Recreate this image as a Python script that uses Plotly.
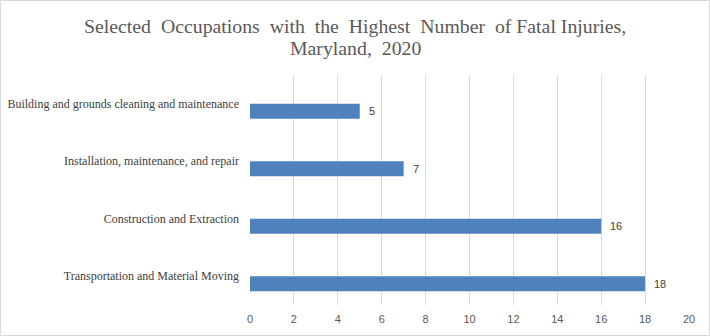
import plotly.graph_objects as go

categories = [
    "Building and grounds cleaning and maintenance",
    "Installation, maintenance, and repair",
    "Construction and Extraction",
    "Transportation and Material Moving",
]
values = [5, 7, 16, 18]
x_ticks = [0, 2, 4, 6, 8, 10, 12, 14, 16, 18, 20]
title_line1 = "Selected&nbsp; Occupations&nbsp; with&nbsp; the&nbsp; Highest&nbsp; Number&nbsp; of Fatal Injuries,"
title_line2 = "Maryland,&nbsp; 2020"

idx = list(range(len(categories)))
bar_w = 0.26
bar_pos = [i + bar_w / 2 for i in idx]

PLOT_H = 230
PLOT_W = 439
LEFT = 250
TOP = 75

fig = go.Figure()
fig.add_trace(go.Bar(
    x=values, y=bar_pos, orientation="h", width=bar_w,
    marker=dict(color="#4F81BD", line=dict(width=0)),
    hoverinfo="skip",
))

for v, p in zip(values, bar_pos):
    fig.add_annotation(x=v, y=p, text=str(v), showarrow=False, xanchor="left",
                       yanchor="middle", xshift=7,
                       font=dict(family="Liberation Sans", size=11, color="#404040"))

title_font = dict(family="Liberation Serif", size=19.8, color="#595959")
for txt, ypx in [(title_line1, 26), (title_line2, 48)]:
    fig.add_annotation(xref="paper", yref="paper", x=(355 - LEFT) / PLOT_W,
                       xanchor="center", y=1 + (TOP - ypx) / PLOT_H, yanchor="middle",
                       showarrow=False, text=txt, font=title_font)

fig.update_layout(
    width=710, height=336,
    margin=dict(l=LEFT, r=21, t=TOP, b=31, autoexpand=False),
    paper_bgcolor="white", plot_bgcolor="white",
    showlegend=False,
    xaxis=dict(range=[0, 20], tickvals=x_ticks, showgrid=True, gridcolor="#D9D9D9",
               gridwidth=1, zeroline=False, showline=False, ticks="",
               ticklabelstandoff=6, automargin=False,
               tickfont=dict(family="Liberation Sans", size=11, color="#595959")),
    yaxis=dict(range=[3.5, -0.5], tickvals=idx, ticktext=categories, showgrid=False,
               zeroline=False, showline=False, ticks="", ticklabelstandoff=10,
               automargin=False,
               tickfont=dict(family="Liberation Serif", size=12, color="#404040")),
)
fig.add_shape(type="rect", xref="paper", yref="paper",
              x0=-249.5 / PLOT_W, x1=1 + 20.5 / PLOT_W, y0=-30.5 / PLOT_H, y1=1 + 74.5 / PLOT_H,
              line=dict(color="#D9D9D9", width=1), layer="below")

fig.write_html("out.html")
